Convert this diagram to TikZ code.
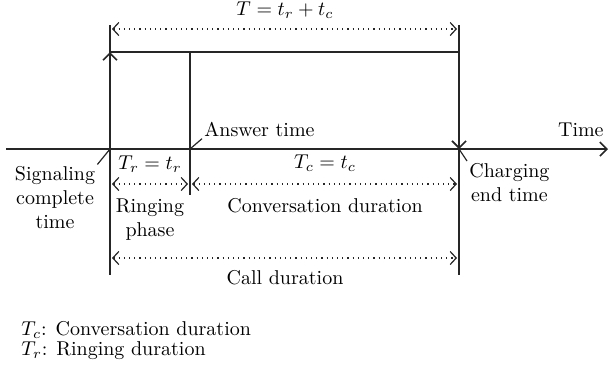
\documentclass[tikz,border=0pt]{standalone}
\usepackage{amsmath}
\usepackage{tikz}
\usetikzlibrary{arrows.meta, positioning}

\begin{document}
\begin{tikzpicture}[
  x=0.5pt, y=-0.5pt,
  rule/.style     = {draw=black!85, line width=0.8pt},
  tick/.style     = {draw=black!85, line width=0.6pt},
  uparrow/.style  = {rule, -{Straight Barb[length=3.5pt, width=7pt]}},
  dimarrow/.style = {{Straight Barb[length=3pt, width=6.5pt]}-{Straight Barb[length=3pt, width=6.5pt]},
                     dotted, line width=0.6pt, draw=black!85, shorten <=1pt, shorten >=1pt},
  lbl/.style      = {font=\normalsize, inner sep=1pt, align=center},
]
\useasboundingbox (0,0) rectangle (609,372);

%% ==================== KEY INSTANTS ====================
\coordinate (axisL)  at (6,149);
\coordinate (axisR)  at (608,149);
\coordinate (sigTop) at (110,25);
\coordinate (sigBot) at (110,275);
\coordinate (sig)    at (110,149);
\coordinate (sigHi)  at (110,52);
\coordinate (ans)    at (190,149);
\coordinate (ansHi)  at (190,52);
\coordinate (ansBot) at (190,195);
\coordinate (endT)   at (459,149);
\coordinate (endHi)  at (459,52);
\coordinate (endTop) at (459,25);
\coordinate (endBot) at (459,275);

%% Time axis and verticals
\draw[rule, -{Straight Barb[length=3.5pt, width=7pt]}] (axisL) -- (axisR);
\draw[rule] (sigTop) -- (sigBot);
\draw[uparrow] (sig) -- (sigHi);
\draw[rule] (sigHi) -- (endHi);
\draw[rule] (ansHi) -- (ansBot);
\draw[rule] (endTop) -- (endBot);
\draw[uparrow] (endHi) -- (endT);

%% ==================== LABELS ====================
\node[lbl] (total) at (285,10) {$T = t_r + t_c$};
\node[lbl, anchor=south east] (timelbl) at (606,139) {Time};
\node[lbl, anchor=west] (answer) at (202,129) {Answer time};
\node[lbl] (signal) at (55,198) {Signaling\\complete\\time};
\node[lbl, anchor=north west] (charge) at (467,161) {Charging\\end time};

\node[lbl] (trlbl) at (150,164) {$T_r = t_r$};
\node[lbl, below=11pt of trlbl] (ringing) {Ringing\\phase};
\node[lbl] (tclbl) at (325,163) {$T_c = t_c$};
\node[lbl, below=11pt of tclbl] (convers) {Conversation duration};
\node[lbl] (calldur) at (285,278) {Call duration};

%% Pointer ticks
\draw[tick] (sig)  -- (signal.north east);
\draw[tick] (ans)  -- (answer.south west);
\draw[tick] (endT) -- (charge.north west);

%% ==================== DURATIONS ====================
\coordinate (tL)  at (110,29);  \coordinate (tR)  at (459,29);
\coordinate (rL)  at (110,184); \coordinate (rR)  at (190,184);
\coordinate (cR)  at (459,184);
\coordinate (dL)  at (110,258); \coordinate (dR)  at (459,258);
\draw[dimarrow] (tL) -- (tR);
\draw[dimarrow] (rL) -- (rR);
\draw[dimarrow] (rR) -- (cR);
\draw[dimarrow] (dL) -- (dR);

%% Legend
\node[lbl, anchor=west] (legc) at (19,330) {$T_c$: Conversation duration};
\node[lbl, anchor=west] (legr) at (19,351) {$T_r$: Ringing duration};

\end{tikzpicture}
\end{document}
